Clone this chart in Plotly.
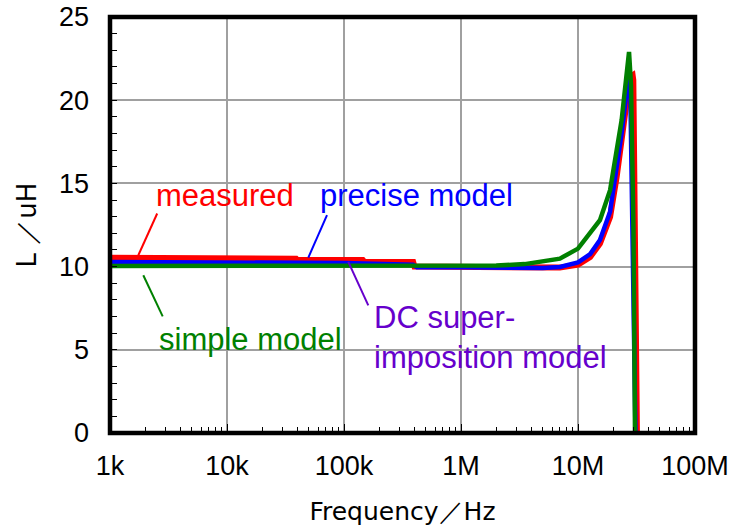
import plotly.graph_objects as go

# Inductance vs frequency (L in uH, f in Hz)
freq_measured = [1e3, 1.6e4, 1.7e4, 3.9e4, 4.0e4, 1.45e5, 1.5e5, 3.9e5, 4.0e5, 1.1e6, 1.2e6,
                 4.7e6, 7.0e6, 1.0e7, 1.27e7, 1.54e7, 1.88e7, 2.14e7, 2.36e7, 2.57e7,
                 2.78e7, 2.93e7, 2.97e7, 3.19e7]
L_measured = [10.53, 10.53, 10.47, 10.47, 10.39, 10.39, 10.28, 10.28, 10.0, 10.0, 9.93,
              9.94, 9.94, 10.12, 10.58, 11.38, 12.99, 15.39, 17.6, 19.8,
              21.4, 21.5, 21.2, 0.0]

freq_precise = [1e3, 1e5, 3.9e5, 4.2e5, 1.1e6, 5.0e6, 7.0e6, 1.0e7, 1.27e7, 1.54e7, 1.88e7,
                2.14e7, 2.36e7, 2.57e7, 2.69e7, 2.8e7, 3.1e7]
L_precise = [10.27, 10.22, 10.11, 9.96, 9.96, 9.92, 9.98, 10.25, 10.75, 11.6, 13.3,
             15.8, 18.0, 20.2, 21.3, 20.5, 0.0]

freq_simple = [1e3, 1e6, 2e6, 3.5e6, 4.73e6, 7.0e6, 1.0e7, 1.27e7, 1.54e7, 1.88e7, 2.14e7,
               2.36e7, 2.57e7, 2.73e7, 2.84e7, 2.98e7, 3.07e7]
L_simple = [10.04, 10.04, 10.06, 10.15, 10.28, 10.48, 11.08, 11.98, 12.79, 14.59, 16.8,
            18.8, 21.2, 22.9, 20.9, 12.2, 0.0]

x_tickvals = [1e3, 1e4, 1e5, 1e6, 1e7, 1e8]
x_ticktext = ["1k", "10k", "100k", "1M", "10M", "100M"]
y_tickvals = [0, 5, 10, 15, 20, 25]

# callout labels: (text, colour, text position (log10 f, L), leader line [(f, L), (f, L)])
callouts = [
    ("measured", "#FF0000", (3.987, 14.29), [(2531, 13.19), (1746, 10.68)]),
    ("precise model", "#0000FF", (5.62, 14.29), [(71560, 13.09), (49540, 10.54)]),
    ("simple model", "#008000", (4.20, 5.63), [(1926, 9.48), (2821, 7.01)]),
]
dc_text = "DC super-<br>imposition model"
dc_color = "#6600CC"
dc_pos = (5.24, 5.72)
dc_leader = [(108850, 10.28), (161300, 7.67)]

FONT = "Liberation Sans"
TITLE_FONT = "DejaVu Sans"

fig = go.Figure()

fig.add_trace(go.Scatter(x=freq_measured, y=L_measured, mode="lines",
                         line=dict(color="#FF0000", width=6), showlegend=False))
fig.add_trace(go.Scatter(x=freq_precise, y=L_precise, mode="lines",
                         line=dict(color="#0000FF", width=4.5), showlegend=False))
fig.add_trace(go.Scatter(x=freq_simple, y=L_simple, mode="lines",
                         line=dict(color="#008000", width=4.5), showlegend=False))

annotations = []
for text, color, (tx, ty), leader in callouts:
    fig.add_trace(go.Scatter(x=[p[0] for p in leader], y=[p[1] for p in leader], mode="lines",
                             line=dict(color=color, width=2), showlegend=False))
    annotations.append(dict(x=tx, y=ty, xref="x", yref="y", text=text, showarrow=False,
                            font=dict(family=FONT, size=31, color=color),
                            xanchor="center", yanchor="middle"))

fig.add_trace(go.Scatter(x=[p[0] for p in dc_leader], y=[p[1] for p in dc_leader], mode="lines",
                         line=dict(color=dc_color, width=2), showlegend=False))
annotations.append(dict(x=dc_pos[0], y=dc_pos[1], xref="x", yref="y", text=dc_text,
                        showarrow=False, align="left",
                        font=dict(family=FONT, size=31, color=dc_color),
                        xanchor="left", yanchor="middle"))

fig.update_layout(
    width=732, height=527,
    margin=dict(l=110, r=37, t=17, b=94, autoexpand=False),
    paper_bgcolor="white", plot_bgcolor="white",
    font=dict(family=FONT, size=27, color="black"),
    annotations=annotations,
    shapes=[dict(type="rect", xref="paper", yref="paper", x0=0, y0=0, x1=1, y1=1,
                 line=dict(color="black", width=4.5), layer="above")],
    xaxis=dict(
        type="log", range=[3, 8], automargin=False,
        tickmode="array", tickvals=x_tickvals, ticktext=x_ticktext,
        showgrid=True, gridcolor="#A0A0A0", gridwidth=1.5,
        ticks="inside", ticklen=9, tickwidth=1, tickcolor="black",
        minor=dict(ticks="inside", ticklen=6, tickwidth=1, tickcolor="black",
                   dtick="D1", showgrid=False),
        ticklabelstandoff=14,
        showline=False, zeroline=False,
        title=dict(text="Frequency／Hz", font=dict(family=TITLE_FONT, size=25), standoff=22),
    ),
    yaxis=dict(
        range=[0, 25], automargin=False,
        tickmode="array", tickvals=y_tickvals,
        showgrid=True, gridcolor="#A0A0A0", gridwidth=1.5,
        ticks="inside", ticklen=7, tickwidth=1, tickcolor="black",
        minor=dict(ticks="inside", ticklen=7, tickwidth=1, tickcolor="black",
                   dtick=1, showgrid=False),
        ticklabelstandoff=20,
        showline=False, zeroline=False,
        title=dict(text="L ／uH", font=dict(family=TITLE_FONT, size=26), standoff=14),
    ),
)

fig.write_html("out.html")
